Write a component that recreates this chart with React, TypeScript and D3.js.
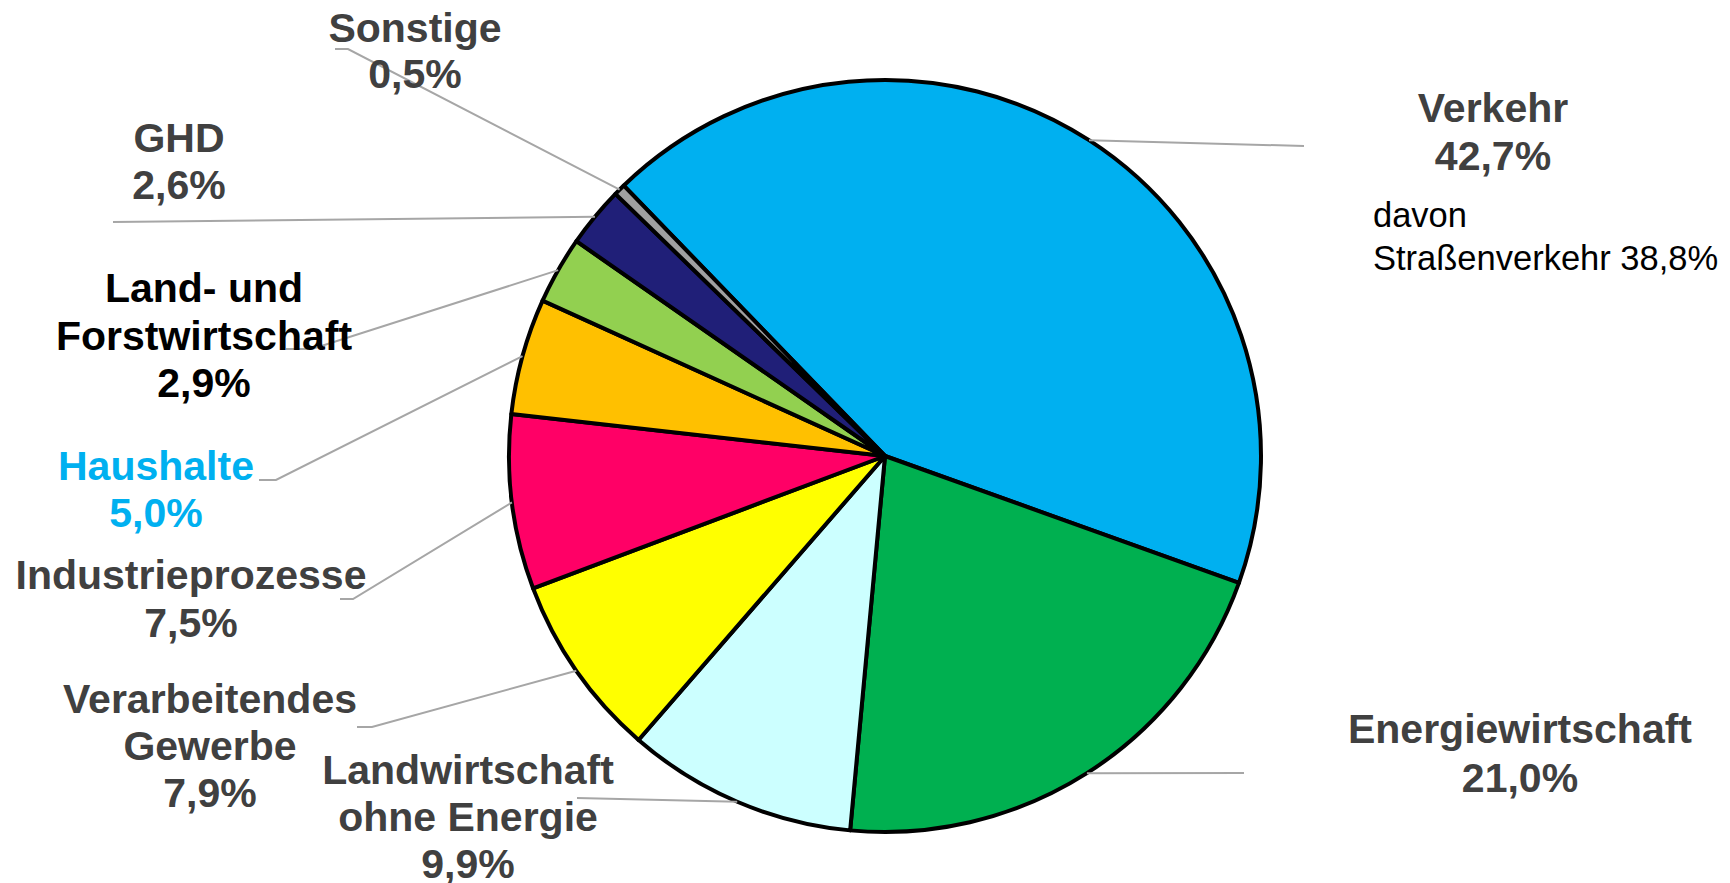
import React from "react";
import * as d3 from "d3";

const categories = [
  "Verkehr",
  "Energiewirtschaft",
  "Landwirtschaft ohne Energie",
  "Verarbeitendes Gewerbe",
  "Industrieprozesse",
  "Haushalte",
  "Land- und Forstwirtschaft",
  "GHD",
  "Sonstige",
];
const values = [42.7, 21.0, 9.9, 7.9, 7.5, 5.0, 2.9, 2.6, 0.5];
const labelLines: string[][] = [
  ["Verkehr", "42,7%"],
  ["Energiewirtschaft", "21,0%"],
  ["Landwirtschaft", "ohne Energie", "9,9%"],
  ["Verarbeitendes", "Gewerbe", "7,9%"],
  ["Industrieprozesse", "7,5%"],
  ["Haushalte", "5,0%"],
  ["Land- und", "Forstwirtschaft", "2,9%"],
  ["GHD", "2,6%"],
  ["Sonstige", "0,5%"],
];
const noteLines = ["davon", "Straßenverkehr 38,8%"];

const colors = [
  "#00B0F0",
  "#00B050",
  "#CCFFFF",
  "#FFFF00",
  "#FF0066",
  "#FFC000",
  "#92D050",
  "#201F78",
  "#A0A0A0",
];
const textColors = [
  "#404040", "#404040", "#404040", "#404040", "#404040",
  "#00B0F0", "#000000", "#404040", "#404040",
];

// layout: label center x, first baseline y, line height; leader elbow points
const labelPos = [
  { x: 1493, y: 122, lh: 48 },
  { x: 1520, y: 743, lh: 49 },
  { x: 468, y: 784, lh: 47 },
  { x: 210, y: 713, lh: 47 },
  { x: 191, y: 589, lh: 48 },
  { x: 156, y: 480, lh: 47 },
  { x: 204, y: 302, lh: 47.5 },
  { x: 179, y: 152, lh: 47 },
  { x: 415, y: 42, lh: 46 },
];
const leaderEnds: [number, number][][] = [
  [[1304, 146]],
  [[1244, 773]],
  [[577, 798]],
  [[372, 727], [357, 727]],
  [[353, 599], [340, 599]],
  [[276, 480], [259, 480]],
  [[312, 349], [286, 349]],
  [[113, 222]],
  [[348, 49], [335, 49]],
];

const cx = 885;
const cy = 456;
const R = 376;
const startDeg = -44;

export default function App() {
  const pie = d3
    .pie<number>()
    .sort(null)
    .value((d) => d)
    .startAngle((startDeg * Math.PI) / 180)
    .endAngle((startDeg * Math.PI) / 180 + 2 * Math.PI);
  const arcs = pie(values);
  const arc = d3.arc<d3.PieArcDatum<number>>().innerRadius(0).outerRadius(R);
  const line = d3.line();
  const font = "'Liberation Sans', Arial, Helvetica, sans-serif";

  return (
    <svg
      width={1730}
      height={883}
      style={{ position: "absolute", left: 0, top: 0, background: "#fff" }}
    >
      <g transform={`translate(${cx},${cy})`}>
        {arcs.map((a, i) => (
          <path
            key={categories[i]}
            d={arc(a) || ""}
            fill={colors[i]}
            stroke="#000"
            strokeWidth={4}
            strokeLinejoin="round"
          />
        ))}
      </g>
      {arcs.map((a, i) => {
        const mid = (a.startAngle + a.endAngle) / 2;
        const p: [number, number] = [cx + R * Math.sin(mid), cy - R * Math.cos(mid)];
        const pts = [p, ...leaderEnds[i]];
        return (
          <path
            key={"l" + i}
            d={line(pts) || ""}
            fill="none"
            stroke="#A6A6A6"
            strokeWidth={2}
          />
        );
      })}
      {labelLines.map((lines, i) => (
        <text
          key={"t" + i}
          x={labelPos[i].x}
          y={labelPos[i].y}
          textAnchor="middle"
          fontFamily={font}
          fontWeight="bold"
          fontSize={41}
          fill={textColors[i]}
        >
          {lines.map((ln, j) => (
            <tspan key={j} x={labelPos[i].x} y={labelPos[i].y + j * labelPos[i].lh}>
              {ln}
            </tspan>
          ))}
        </text>
      ))}
      <text fontFamily={font} fontSize={34.5} fill="#000">
        {noteLines.map((ln, j) => (
          <tspan key={j} x={1373} y={227 + j * 43}>
            {ln}
          </tspan>
        ))}
      </text>
    </svg>
  );
}
